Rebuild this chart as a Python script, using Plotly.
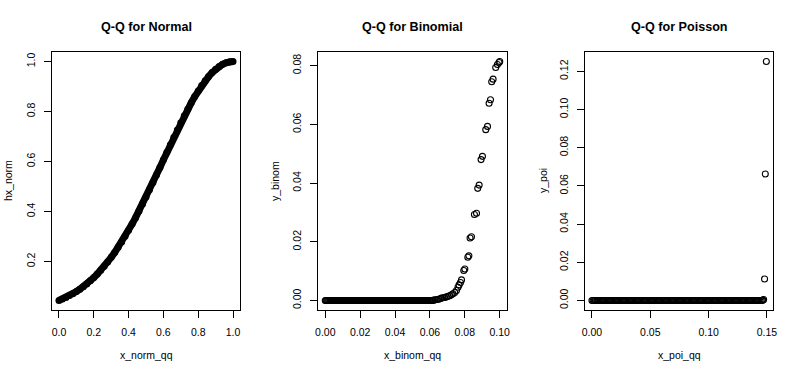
import plotly.graph_objects as go

# ---------------- data ----------------
x_norm_qq = [0.00, 0.02, 0.04, 0.06, 0.08, 0.10, 0.12, 0.14, 0.16, 0.18,
             0.20, 0.22, 0.24, 0.26, 0.28, 0.30, 0.32, 0.34, 0.36, 0.38,
             0.40, 0.42, 0.44, 0.46, 0.48, 0.50, 0.52, 0.54, 0.56, 0.58,
             0.60, 0.62, 0.64, 0.66, 0.68, 0.70, 0.72, 0.74, 0.76, 0.78,
             0.80, 0.82, 0.84, 0.86, 0.88, 0.90, 0.92, 0.94, 0.96, 0.98,
             1.00]
hx_norm = [0.0439, 0.0497, 0.0561, 0.0632, 0.0710, 0.0796, 0.0889, 0.0991, 0.1102, 0.1223,
           0.1353, 0.1494, 0.1645, 0.1806, 0.1979, 0.2163, 0.2357, 0.2563, 0.2780, 0.3008,
           0.3247, 0.3495, 0.3753, 0.4020, 0.4295, 0.4578, 0.4868, 0.5162, 0.5461, 0.5763,
           0.6065, 0.6368, 0.6670, 0.6968, 0.7261, 0.7548, 0.7827, 0.8096, 0.8353, 0.8598,
           0.8825, 0.9037, 0.9231, 0.9406, 0.9560, 0.9692, 0.9802, 0.9888, 0.9950, 0.9988,
           1.0000]

x_binom_qq = [0.0000, 0.0005, 0.0010, 0.0015, 0.0020, 0.0025, 0.0030, 0.0035, 0.0040, 0.0045,
              0.0050, 0.0055, 0.0060, 0.0065, 0.0070, 0.0075, 0.0080, 0.0085, 0.0090, 0.0095,
              0.0100, 0.0105, 0.0110, 0.0115, 0.0120, 0.0125, 0.0130, 0.0135, 0.0140, 0.0145,
              0.0150, 0.0155, 0.0160, 0.0165, 0.0170, 0.0175, 0.0180, 0.0185, 0.0190, 0.0195,
              0.0200, 0.0205, 0.0210, 0.0215, 0.0220, 0.0225, 0.0230, 0.0235, 0.0240, 0.0245,
              0.0250, 0.0255, 0.0260, 0.0265, 0.0270, 0.0275, 0.0280, 0.0285, 0.0290, 0.0295,
              0.0300, 0.0305, 0.0310, 0.0315, 0.0320, 0.0325, 0.0330, 0.0335, 0.0340, 0.0345,
              0.0350, 0.0355, 0.0360, 0.0365, 0.0370, 0.0375, 0.0380, 0.0385, 0.0390, 0.0395,
              0.0400, 0.0405, 0.0410, 0.0415, 0.0420, 0.0425, 0.0430, 0.0435, 0.0440, 0.0445,
              0.0450, 0.0455, 0.0460, 0.0465, 0.0470, 0.0475, 0.0480, 0.0485, 0.0490, 0.0495,
              0.0500, 0.0505, 0.0510, 0.0515, 0.0520, 0.0525, 0.0530, 0.0535, 0.0540, 0.0545,
              0.0550, 0.0555, 0.0560, 0.0565, 0.0570, 0.0575, 0.0580, 0.0585, 0.0590, 0.0595,
              0.0600, 0.0605, 0.0610, 0.0615, 0.0620, 0.0630, 0.0640, 0.0650, 0.0658, 0.0666,
              0.0675, 0.0685, 0.0694, 0.0704, 0.0713, 0.0723, 0.0732, 0.0742, 0.0752, 0.0761,
              0.0767, 0.0775, 0.0781, 0.0794, 0.0800, 0.0817, 0.0823, 0.0830, 0.0838, 0.0855,
              0.0867, 0.0874, 0.0882, 0.0893, 0.0901, 0.0920, 0.0930, 0.0939, 0.0947, 0.0954,
              0.0962, 0.0977, 0.0987, 0.0996, 0.1000]
y_binom = [0.0, 0.0, 0.0, 0.0, 0.0, 0.0, 0.0, 0.0, 0.0, 0.0,
           0.0, 0.0, 0.0, 0.0, 0.0, 0.0, 0.0, 0.0, 0.0, 0.0,
           0.0, 0.0, 0.0, 0.0, 0.0, 0.0, 0.0, 0.0, 0.0, 0.0,
           0.0, 0.0, 0.0, 0.0, 0.0, 0.0, 0.0, 0.0, 0.0, 0.0,
           0.0, 0.0, 0.0, 0.0, 0.0, 0.0, 0.0, 0.0, 0.0, 0.0,
           0.0, 0.0, 0.0, 0.0, 0.0, 0.0, 0.0, 0.0, 0.0, 0.0,
           0.0, 0.0, 0.0, 0.0, 0.0, 0.0, 0.0, 0.0, 0.0, 0.0,
           0.0, 0.0, 0.0, 0.0, 0.0, 0.0, 0.0, 0.0, 0.0, 0.0,
           0.0, 0.0, 0.0, 0.0, 0.0, 0.0, 0.0, 0.0, 0.0, 0.0,
           0.0, 0.0, 0.0, 0.0, 0.0, 0.0, 0.0, 0.0, 0.0, 0.0,
           0.0, 0.0, 0.0, 0.0, 0.0, 0.0, 0.0, 0.0, 0.0, 0.0,
           0.0, 0.0, 0.0, 0.0, 0.0, 0.0, 0.0, 0.0, 0.0, 0.0,
           0.0, 0.0, 0.0, 0.0, 0.0001, 0.0002, 0.0003, 0.0004, 0.0006, 0.0008,
           0.0009, 0.0010, 0.0012, 0.0014, 0.0016, 0.0019, 0.0023, 0.0027, 0.0034, 0.0045,
           0.0053, 0.0061, 0.0070, 0.0102, 0.0107, 0.0147, 0.0152, 0.0213, 0.0217, 0.0293,
           0.0297, 0.0382, 0.0393, 0.0480, 0.0491, 0.0582, 0.0593, 0.0672, 0.0684, 0.0745,
           0.0754, 0.0794, 0.0804, 0.0811, 0.0814]

x_poi_qq = [0.000, 0.001, 0.002, 0.003, 0.004, 0.005, 0.006, 0.007, 0.008, 0.009,
            0.010, 0.011, 0.012, 0.013, 0.014, 0.015, 0.016, 0.017, 0.018, 0.019,
            0.020, 0.021, 0.022, 0.023, 0.024, 0.025, 0.026, 0.027, 0.028, 0.029,
            0.030, 0.031, 0.032, 0.033, 0.034, 0.035, 0.036, 0.037, 0.038, 0.039,
            0.040, 0.041, 0.042, 0.043, 0.044, 0.045, 0.046, 0.047, 0.048, 0.049,
            0.050, 0.051, 0.052, 0.053, 0.054, 0.055, 0.056, 0.057, 0.058, 0.059,
            0.060, 0.061, 0.062, 0.063, 0.064, 0.065, 0.066, 0.067, 0.068, 0.069,
            0.070, 0.071, 0.072, 0.073, 0.074, 0.075, 0.076, 0.077, 0.078, 0.079,
            0.080, 0.081, 0.082, 0.083, 0.084, 0.085, 0.086, 0.087, 0.088, 0.089,
            0.090, 0.091, 0.092, 0.093, 0.094, 0.095, 0.096, 0.097, 0.098, 0.099,
            0.100, 0.101, 0.102, 0.103, 0.104, 0.105, 0.106, 0.107, 0.108, 0.109,
            0.110, 0.111, 0.112, 0.113, 0.114, 0.115, 0.116, 0.117, 0.118, 0.119,
            0.120, 0.121, 0.122, 0.123, 0.124, 0.125, 0.126, 0.127, 0.128, 0.129,
            0.130, 0.131, 0.132, 0.133, 0.134, 0.135, 0.136, 0.137, 0.138, 0.139,
            0.140, 0.141, 0.142, 0.143, 0.144, 0.145, 0.146, 0.1465,
            0.1472, 0.1480, 0.1486, 0.1495]
y_poi = [0.0, 0.0, 0.0, 0.0, 0.0, 0.0, 0.0, 0.0, 0.0, 0.0,
         0.0, 0.0, 0.0, 0.0, 0.0, 0.0, 0.0, 0.0, 0.0, 0.0,
         0.0, 0.0, 0.0, 0.0, 0.0, 0.0, 0.0, 0.0, 0.0, 0.0,
         0.0, 0.0, 0.0, 0.0, 0.0, 0.0, 0.0, 0.0, 0.0, 0.0,
         0.0, 0.0, 0.0, 0.0, 0.0, 0.0, 0.0, 0.0, 0.0, 0.0,
         0.0, 0.0, 0.0, 0.0, 0.0, 0.0, 0.0, 0.0, 0.0, 0.0,
         0.0, 0.0, 0.0, 0.0, 0.0, 0.0, 0.0, 0.0, 0.0, 0.0,
         0.0, 0.0, 0.0, 0.0, 0.0, 0.0, 0.0, 0.0, 0.0, 0.0,
         0.0, 0.0, 0.0, 0.0, 0.0, 0.0, 0.0, 0.0, 0.0, 0.0,
         0.0, 0.0, 0.0, 0.0, 0.0, 0.0, 0.0, 0.0, 0.0, 0.0,
         0.0, 0.0, 0.0, 0.0, 0.0, 0.0, 0.0, 0.0, 0.0, 0.0,
         0.0, 0.0, 0.0, 0.0, 0.0, 0.0, 0.0, 0.0, 0.0, 0.0,
         0.0, 0.0, 0.0, 0.0, 0.0, 0.0, 0.0, 0.0, 0.0, 0.0,
         0.0, 0.0, 0.0, 0.0, 0.0, 0.0, 0.0, 0.0, 0.0, 0.0,
         0.0, 0.0, 0.0, 0.0, 0.0, 0.0, 0.0, 0.0002,
         0.0005, 0.0112, 0.0662, 0.1251]

# tick labels
norm_xticks = [0.0, 0.2, 0.4, 0.6, 0.8, 1.0]
norm_xlabels = ["0.0", "0.2", "0.4", "0.6", "0.8", "1.0"]
norm_yticks = [0.2, 0.4, 0.6, 0.8, 1.0]
norm_ylabels = ["0.2", "0.4", "0.6", "0.8", "1.0"]
binom_xticks = [0.00, 0.02, 0.04, 0.06, 0.08, 0.10]
binom_xlabels = ["0.00", "0.02", "0.04", "0.06", "0.08", "0.10"]
binom_yticks = [0.00, 0.02, 0.04, 0.06, 0.08]
binom_ylabels = ["0.00", "0.02", "0.04", "0.06", "0.08"]
poi_xticks = [0.00, 0.05, 0.10, 0.15]
poi_xlabels = ["0.00", "0.05", "0.10", "0.15"]
poi_yticks = [0.00, 0.02, 0.04, 0.06, 0.08, 0.10, 0.12]
poi_ylabels = ["0.00", "0.02", "0.04", "0.06", "0.08", "0.10", "0.12"]

titles = ["Q-Q for Normal", "Q-Q for Binomial", "Q-Q for Poisson"]
x_titles = ["x_norm_qq", "x_binom_qq", "x_poi_qq"]
y_titles = ["hx_norm", "y_binom", "y_poi"]

# ---------------- layout helpers ----------------
W, H = 800, 375
FONT = "Liberation Sans, Arial, Helvetica, sans-serif"
panels_px = [(52, 240), (318.3, 506.7), (585, 773.3)]
top_px, bot_px = 52, 310
ylab_px = [8, 275, 543]


def px_x(p):
    return p / W


def px_y(p):
    return 1 - p / H


def r_range(vals):
    lo, hi = min(vals), max(vals)
    pad = (hi - lo) * 0.04
    return [lo - pad, hi + pad]


fig = go.Figure()

series = [
    (x_norm_qq, hx_norm, norm_xticks, norm_xlabels, norm_yticks, norm_ylabels),
    (x_binom_qq, y_binom, binom_xticks, binom_xlabels, binom_yticks, binom_ylabels),
    (x_poi_qq, y_poi, poi_xticks, poi_xlabels, poi_yticks, poi_ylabels),
]

for i, (xs, ys, xt, xl, yt, yl) in enumerate(series):
    n = "" if i == 0 else str(i + 1)
    if i == 0:
        fig.add_trace(go.Scatter(
            x=xs, y=ys, mode="lines+markers",
            line=dict(color="black", width=7),
            marker=dict(symbol="circle", size=7, color="black"),
            xaxis="x" + n, yaxis="y" + n, showlegend=False, hoverinfo="skip"))
    else:
        fig.add_trace(go.Scatter(
            x=xs, y=ys, mode="markers",
            marker=dict(symbol="circle-open", size=6, color="black",
                        line=dict(width=1.1, color="black")),
            xaxis="x" + n, yaxis="y" + n, showlegend=False, hoverinfo="skip"))

    x0, x1 = panels_px[i]
    axis_common = dict(
        showgrid=False, zeroline=False, showline=True, mirror=True,
        linecolor="black", linewidth=1, ticks="outside", ticklen=7,
        tickwidth=1, tickcolor="black", automargin=False,
        tickfont=dict(family=FONT, size=10.5, color="black"),
    )
    fig.update_layout(**{
        "xaxis" + n: dict(
            domain=[px_x(x0), px_x(x1)], anchor="y" + n,
            range=r_range(xs), tickmode="array", tickvals=xt, ticktext=xl,
            ticklabelstandoff=5, **axis_common),
        "yaxis" + n: dict(
            domain=[px_y(bot_px), px_y(top_px)], anchor="x" + n,
            range=r_range(ys), tickmode="array", tickvals=yt, ticktext=yl,
            tickangle=-90, ticklabelstandoff=5, **axis_common),
    })

    cx = px_x((x0 + x1) / 2)
    fig.add_annotation(text="<b>" + titles[i] + "</b>", x=cx, y=px_y(26.7),
                       xref="paper", yref="paper", showarrow=False,
                       xanchor="center", yanchor="middle",
                       font=dict(family=FONT, size=12.6, color="black"))
    fig.add_annotation(text=x_titles[i], x=cx, y=px_y(355),
                       xref="paper", yref="paper", showarrow=False,
                       xanchor="center", yanchor="middle",
                       font=dict(family=FONT, size=10.5, color="black"))
    fig.add_annotation(text=y_titles[i], x=px_x(ylab_px[i]),
                       y=px_y((top_px + bot_px) / 2),
                       xref="paper", yref="paper", showarrow=False,
                       xanchor="center", yanchor="middle", textangle=-90,
                       font=dict(family=FONT, size=10.5, color="black"))

fig.update_layout(
    width=W, height=H, margin=dict(l=0, r=0, t=0, b=0, autoexpand=False),
    paper_bgcolor="white", plot_bgcolor="white",
)

# remove the browser's default 8px body margin so the figure fills the window
fig.write_html("out.html",
               config={"displayModeBar": False, "staticPlot": True},
               post_script="document.body.style.margin='0';"
                           "document.body.style.overflow='hidden';")
